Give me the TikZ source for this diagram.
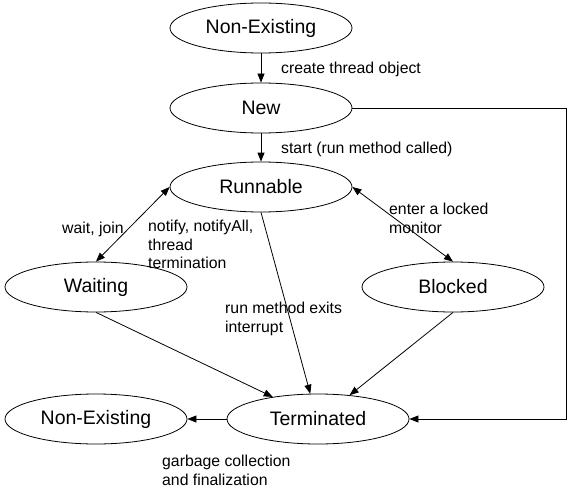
\documentclass[tikz,border=0pt]{standalone}
\usepackage{fontspec}
\setmainfont{Liberation Sans}
\usetikzlibrary{shapes.geometric,arrows.meta}
\tikzset{
  state/.style={ellipse,draw,line width=0.8pt,minimum width=182pt,minimum height=50pt,inner sep=0pt,font=\fontsize{19.5}{22}\selectfont},
  lbl/.style={anchor=north west,inner sep=0pt,align=left,font=\fontsize{15.8}{18.5}\selectfont},
  conn/.style={line width=0.8pt,-{Triangle[length=9pt,width=7pt]}},
  dconn/.style={line width=0.8pt,{Triangle[length=9pt,width=7pt]}-{Triangle[length=9pt,width=7pt]}}
}
\begin{document}
\begin{tikzpicture}[x=1pt,y=-1pt]
\useasboundingbox (0,0) rectangle (569,497);
\node[state] (ne1) at (261,28) {Non-Existing};
\node[state] (new) at (261,108) {New};
\node[state] (run) at (261,187) {Runnable};
\node[state] (wait) at (96,287) {Waiting};
\node[state] (blk) at (453,287) {Blocked};
\node[state] (term) at (318,419) {Terminated};
\node[state] (ne2) at (96,419) {Non-Existing};
\coordinate (corner) at (566,108);

\draw[conn] (ne1) -- (new);
\draw[conn] (new) -- (run);
\draw[dconn] (run.west) -- (wait.north);
\draw[dconn] (run.east) -- (blk.north);
\draw[conn] (run.south) -- (term.107);
\draw[conn] (wait.south) -- (term.154);
\draw[conn] (blk.south) -- (term.37);
\draw[conn] (new.east) -- (corner) |- (term.east);
\draw[conn] (term) -- (ne2);

\node[lbl] (l1) at (281,62) {create thread object};
\node[lbl] (l2) at (281,142) {start (run method called)};
\node[lbl] (l3) at (62,222) {wait, join};
\node[lbl] (l4) at (148,220) {notify, notifyAll,\\thread\\termination};
\node[lbl] (l5) at (389,203) {enter a locked\\monitor};
\node[lbl] (l6) at (225,302) {run method exits\\interrupt};
\node[lbl] (l7) at (162,455) {garbage collection\\and finalization};
\end{tikzpicture}
\end{document}
